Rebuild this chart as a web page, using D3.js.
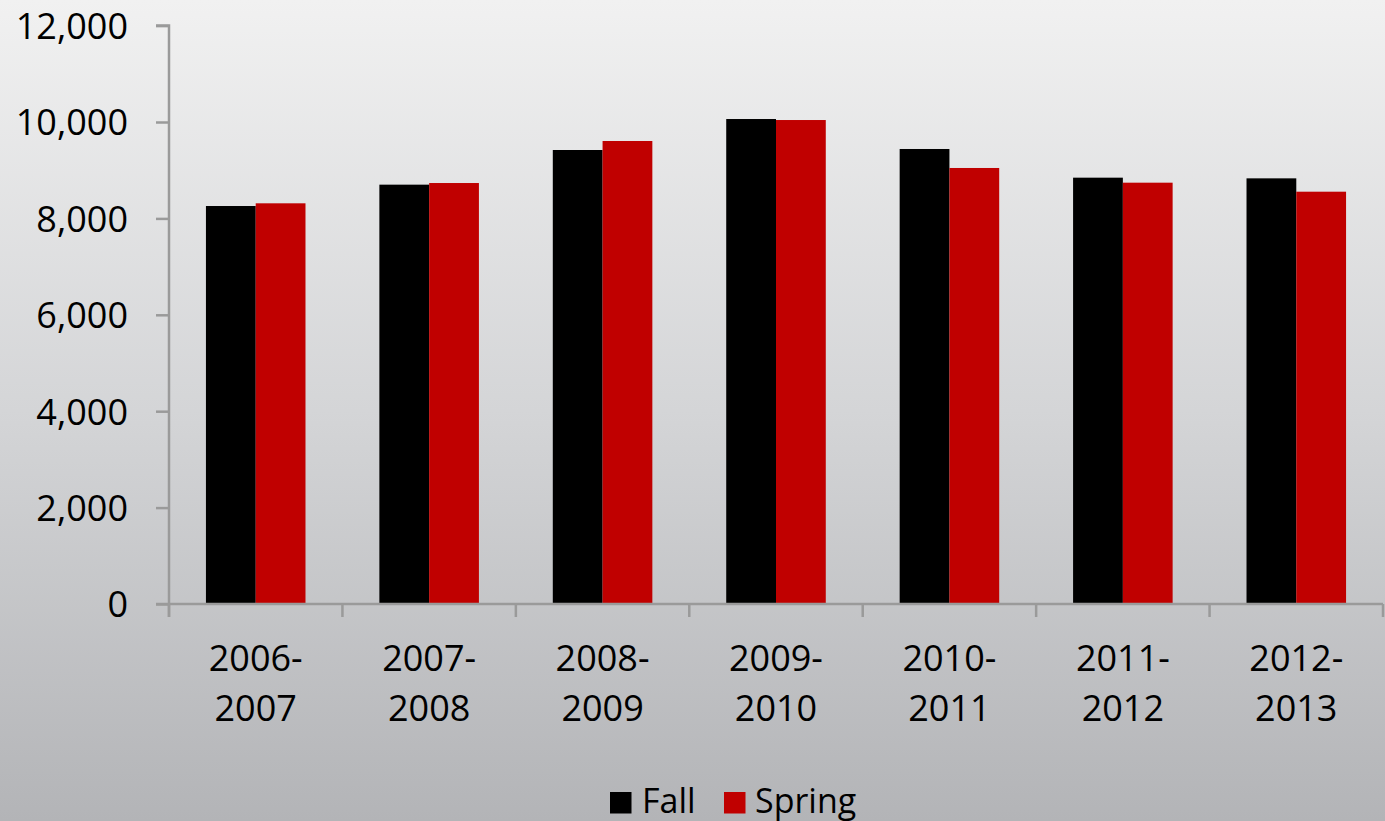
<!DOCTYPE html>
<html>
<head>
<meta charset="utf-8">
<script src="https://cdn.jsdelivr.net/npm/d3@7"></script>
<style>
  html, body { margin: 0; padding: 0; }
  body { width: 1385px; height: 821px; overflow: hidden; }
  text { font-family: "Open Sans", sans-serif; fill: #000; }
</style>
</head>
<body>
<div id="chart"></div>
<script>
// chart data
let years = ['2006-2007', '2007-2008', '2008-2009', '2009-2010', '2010-2011', '2011-2012', '2012-2013']
let fallValues = [8257, 8700, 9419, 10062, 9440, 8845, 8831]
let springValues = [8313, 8734, 9606, 10041, 9046, 8741, 8554]
let seriesNames = ['Fall', 'Spring']
let seriesColors = ['#000000', '#c00000']
let yTicks = [0, 2000, 4000, 6000, 8000, 10000, 12000]

// dimensions
let width = 1385, height = 821
let margin = {top: 25.6, right: 2, bottom: 217, left: 169}
let plotWidth = width - margin.left - margin.right
let plotHeight = height - margin.top - margin.bottom

let svg = d3.select("#chart")
    .append("svg")
    .attr("width", width)
    .attr("height", height)

// background gradient
let grad = svg.append("defs").append("linearGradient")
    .attr("id", "bg-grad")
    .attr("x1", 0).attr("y1", 0).attr("x2", 0).attr("y2", 1)
grad.append("stop").attr("offset", "0%").attr("stop-color", "#f1f1f1")
grad.append("stop").attr("offset", "50%").attr("stop-color", "#d4d5d7")
grad.append("stop").attr("offset", "100%").attr("stop-color", "#b3b4b7")

svg.append("rect")
    .attr("width", width)
    .attr("height", height)
    .attr("fill", "url(#bg-grad)")

let g = svg.append("g")
    .attr("transform", "translate(" + margin.left + "," + margin.top + ")")

// scales
let x = d3.scaleBand()
    .domain(years)
    .range([0, plotWidth])
    .paddingInner(0)
    .paddingOuter(0)

let groupPad = 0.213
let x1 = d3.scaleBand()
    .domain(seriesNames)
    .range([x.bandwidth() * groupPad, x.bandwidth() * (1 - groupPad)])

let y = d3.scaleLinear()
    .domain([0, 12000])
    .range([plotHeight, 0])

// bars
let rows = years.map(function(yr, i) {
    return {year: yr, values: [fallValues[i], springValues[i]]}
})

let groups = g.selectAll(".group")
    .data(rows)
    .enter()
    .append("g")
    .attr("transform", function(d) {return "translate(" + x(d.year) + ",0)"})

groups.selectAll("rect")
    .data(function(d) {
        return d.values.map(function(v, j) {return {name: seriesNames[j], value: v, color: seriesColors[j]}})
    })
    .enter()
    .append("rect")
    .attr("x", function(d) {return x1(d.name)})
    .attr("y", function(d) {return y(d.value)})
    .attr("width", x1.bandwidth())
    .attr("height", function(d) {return plotHeight - y(d.value)})
    .attr("fill", function(d) {return d.color})

// axes
let axisColor = "#9a9a9a"
let tickLen = 13

let yAxis = g.append("g")
    .call(d3.axisLeft(y).tickValues(yTicks).tickSize(tickLen).tickPadding(28)
        .tickFormat(d3.format(",")))
yAxis.select(".domain").attr("stroke", axisColor).attr("stroke-width", 2.5)
    .attr("d", "M0," + (plotHeight + tickLen) + "V0H-" + tickLen)
yAxis.selectAll(".tick line").attr("stroke", axisColor).attr("stroke-width", 2.5)
yAxis.selectAll(".tick text")
    .style("font-size", "36px")
    .style("font-family", "'Open Sans', sans-serif")
    .attr("fill", "#000")
    .attr("dy", "0.36em")

let xAxis = g.append("g")
    .attr("transform", "translate(0," + plotHeight + ")")
xAxis.append("line")
    .attr("x1", -tickLen).attr("x2", plotWidth)
    .attr("stroke", axisColor).attr("stroke-width", 2.5)
xAxis.selectAll(".xtick")
    .data(d3.range(years.length + 1))
    .enter()
    .append("line")
    .attr("x1", function(i) {return i * x.step()})
    .attr("x2", function(i) {return i * x.step()})
    .attr("y1", 0).attr("y2", tickLen)
    .attr("stroke", axisColor).attr("stroke-width", 2.5)

// category labels on two lines
let labels = xAxis.selectAll(".xlabel")
    .data(years)
    .enter()
    .append("text")
    .attr("x", function(d) {return x(d) + x.bandwidth() / 2})
    .attr("y", 67)
    .style("font-size", "36px")
    .style("text-anchor", "middle")
labels.append("tspan")
    .attr("x", function(d) {return x(d) + x.bandwidth() / 2})
    .text(function(d) {return d.split("-")[0] + "-"})
labels.append("tspan")
    .attr("x", function(d) {return x(d) + x.bandwidth() / 2})
    .attr("dy", 50)
    .text(function(d) {return d.split("-")[1]})

// legend
let legendItems = [{name: 'Fall', x: 610, tx: 642}, {name: 'Spring', x: 724, tx: 755}]
let legend = svg.append("g")
legend.selectAll("rect")
    .data(legendItems)
    .enter()
    .append("rect")
    .attr("x", function(d) {return d.x})
    .attr("y", 792)
    .attr("width", 21.5)
    .attr("height", 21.5)
    .attr("fill", function(d, i) {return seriesColors[i]})
legend.selectAll("text")
    .data(legendItems)
    .enter()
    .append("text")
    .attr("x", function(d) {return d.tx})
    .attr("y", 813)
    .style("font-size", "34px")
    .text(function(d) {return d.name})
</script>
</body>
</html>
